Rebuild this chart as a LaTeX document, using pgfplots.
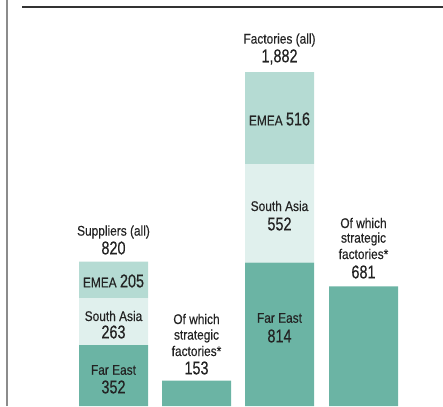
\documentclass[border=0pt]{standalone}
\usepackage{pgfplots}
\pgfplotsset{compat=1.18}
\usepackage{fontspec}
\setmainfont{Liberation Sans}[FakeStretch=0.85,FakeBold=0.3]
\newfontfamily\bigfont{Liberation Sans}[FakeStretch=0.78,FakeBold=0.4]
\definecolor{fareast}{RGB}{107,180,164}
\definecolor{southasia}{RGB}{224,240,237}
\definecolor{emea}{RGB}{181,219,211}
\definecolor{txt}{RGB}{35,35,35}
\newcommand{\sm}{\fontsize{14}{16}\selectfont}
\newcommand{\bg}{\bigfont\fontsize{18.5}{20}\selectfont}
\begin{document}
\begin{tikzpicture}[x=1pt,y=1pt]
\begin{axis}[
  at={(0,0)}, anchor=south west,
  scale only axis, width=443pt, height=406pt,
  xmin=0, xmax=443, ymin=11.2, ymax=2285.7,
  hide axis, ybar stacked, bar width=69pt,
]
\addplot[fill=fareast, draw=none] coordinates {(113.5,352) (196.5,153) (279.5,814) (363.5,681)};
\addplot[fill=southasia, draw=none] coordinates {(113.5,263) (196.5,0) (279.5,552) (363.5,0)};
\addplot[fill=emea, draw=none] coordinates {(113.5,205) (196.5,0) (279.5,516) (363.5,0)};
\end{axis}
\path[use as bounding box] (0,0) rectangle (443,406);
\draw[black!45, line width=2pt] (7,0) -- (7,406);
\draw[black!80, line width=1.3pt] (22,399) -- (443,399);
\begin{scope}[every node/.style={text=txt, inner sep=0pt, anchor=center}]
% Suppliers
\node at (113.5,406-232) {\sm Suppliers (all)};
\node at (113.5,406-248) {\bg 820};
\node at (113.5,406-281) {\sm EMEA \bg 205};
\node at (113.5,406-316) {\sm South Asia};
\node at (113.5,406-332) {\bg 263};
\node at (113.5,406-370) {\sm Far East};
\node at (113.5,406-387) {\bg 352};
% strategic suppliers
\node at (196.5,406-319) {\sm Of which};
\node at (196.5,406-336) {\sm strategic};
\node at (196.5,406-351) {\sm factories*};
\node at (196.5,406-368) {\bg 153};
% factories
\node at (279.5,406-40) {\sm Factories (all)};
\node at (279.5,406-57) {\bg 1,882};
\node at (279.5,406-119) {\sm EMEA \bg 516};
\node at (279.5,406-206) {\sm South Asia};
\node at (279.5,406-224) {\bg 552};
\node at (279.5,406-318) {\sm Far East};
\node at (279.5,406-336) {\bg 814};
% strategic factories
\node at (363.5,406-223) {\sm Of which};
\node at (363.5,406-239) {\sm strategic};
\node at (363.5,406-254) {\sm factories*};
\node at (363.5,406-272) {\bg 681};
\end{scope}
\end{tikzpicture}
\end{document}
